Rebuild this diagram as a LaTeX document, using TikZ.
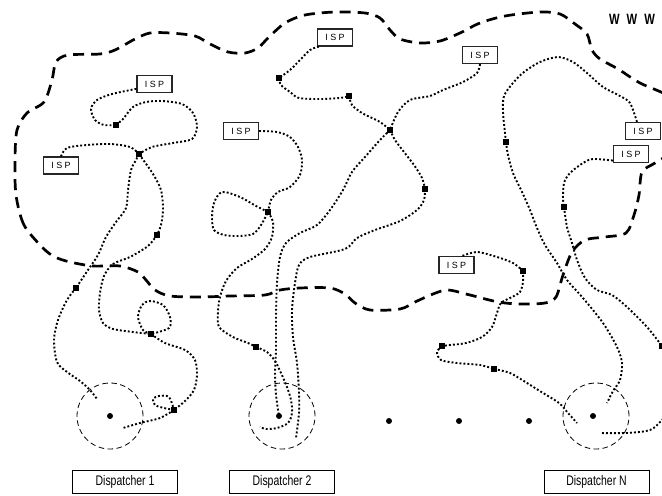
\documentclass[tikz,border=0pt]{standalone}
\usepackage{fontspec}
\setmainfont{Liberation Sans}
\newfontfamily\narrowfont[FakeStretch=0.75]{Liberation Sans}
\usetikzlibrary{calc}
\tikzset{
  isp box/.style={
    draw=black!85,
    line width=1.2bp,
    fill=white,
    minimum width=35bp,
    minimum height=17bp,
    inner sep=0pt,
    font=\fontsize{9}{9}\selectfont,
  },
  router/.style={
    fill=black,
    minimum size=6.5bp,
    inner sep=0pt,
  },
  hub/.style={
    circle,
    fill=black,
    minimum size=6bp,
    inner sep=0pt,
  },
  ring/.style={
    circle,
    draw,
    line width=0.8bp,
    dash pattern=on 5.5bp off 3.5bp,
    minimum size=66bp,
    inner sep=0pt,
  },
  dispatch box/.style={
    draw,
    line width=0.8bp,
    minimum width=105bp,
    minimum height=23bp,
    inner sep=0pt,
    font=\narrowfont\fontsize{14}{14}\selectfont,
  },
  link/.style={line width=1.9bp,dash pattern=on 1.9bp off 2.1bp},
  net border/.style={line width=2.7bp,dash pattern=on 11bp off 7bp},
}

\begin{document}
\begin{tikzpicture}[x=1bp,y=-1bp]
\clip (0,0) rectangle (662,496);

% Internet border.
\draw[net border] plot[smooth cycle,tension=0.5] coordinates {
  (43,248) (24,225) (16,195) (15,160) (17,130) (27,113) (44,102) (52,80) (56,62)
  (68,55) (100,54) (115,50) (135,39) (150,33) (170,33) (195,36) (210,44) (228,52)
  (245,53) (258,48) (268,38) (285,23) (305,15) (335,12) (365,13) (380,18) (390,30)
  (400,39) (420,43) (440,41) (460,33) (480,23) (505,16) (540,12) (560,14) (575,24)
  (587,34) (592,50) (600,59) (618,69) (640,83) (675,100) (690,130) (675,150)
  (655,163) (642,172) (639,195) (634,215) (626,233) (605,237) (585,240) (572,252)
  (563,275) (556,297) (545,303) (520,304) (498,302) (470,295) (448,290) (433,294)
  (415,302) (400,309) (370,310) (355,303) (345,294) (330,288) (300,288) (280,290)
  (265,295) (230,296) (200,297) (170,296) (155,290) (146,280) (138,272) (120,266)
  (93,266) (70,262) (55,257)};

\node[font=\narrowfont\bfseries\fontsize{15}{15}\selectfont] (www) at (632,19) {W\hspace{7bp}W\hspace{7bp}W};

% Access providers and routers.
\foreach \n/\x/\y in {isp1/154.5/84,isp2/61/165.5,isp3/335/37.5,isp4/241/131,isp5/480/55,isp6/643/131,isp7/631/154,isp8/456.5/265}
  \node[isp box] (\n) at (\x,\y) {I S P};

\foreach \n/\x/\y in {ra/116/125,rb/139/154,rc/157/235,rd/76/288,re/151/334,rf/174/410,rg/279/78,rh/349/96,ri/390/130,rj/425/189,rk/268/212,rl/256/347,rm/506/142,rn/564/207,ro/523/271,rp/442/346,rq/494/369,rr/662/346}
  \node[router] (\n) at (\x,\y) {};

% Dispatchers.
\foreach \n/\h/\c/\b in {1/110/110/125,2/279/282/282,N/593/596/596.5}{
  \node[hub] (hub\n) at (\h,416) {};
  \node[ring] (ring\n) at (\c,416) {};
  \node[dispatch box] (disp\n) at (\b,482) {Dispatcher \n};
}
\foreach \i/\x in {1/389,2/459,3/529}
  \node[hub] (gap\i) at (\x,421) {};

% Free ends inside the dispatcher areas.
\foreach \n/\x/\y in {e1/97/399,e2/123/428,e3/296/438,e5/260/427,e6/607/403,e7/600/433,e8/577/423}
  \coordinate (\n) at (\x,\y);
\coordinate (isp3 out) at ($(isp3.south west)+(2,0)$);
\coordinate (isp6 out) at ($(isp6.north)+(-6,0)$);
\coordinate (isp8 out) at ($(isp8.north)+(6,0)$);

% Left tree.
\draw[link] plot[smooth] coordinates {(isp1.195) (112,94) (97,100) (91,109) (95,120) (104,125) (ra)};
\draw[link] plot[smooth] coordinates {(ra) (123,119) (133,107) (146,102) (162,101) (182,104) (193,113) (197,127) (192,139) (173,143) (152,147) (rb)};
\draw[link] plot[smooth] coordinates {(isp2.north) (67,148) (87,145) (110,144) (130,147) (rb)};
\draw[link] plot[smooth] coordinates {(rb) (144,161) (153,174) (161,190) (163,210) (161,225) (rc)};
\draw[link] plot[smooth] coordinates {(rc) (148,246) (130,257) (113,264) (104,276) (100,293) (99,310) (103,323) (113,329) (133,332) (re)};
\draw[link] plot[smooth] coordinates {(rb) (136,160) (131,170) (128,190) (126,208) (116,222) (106,237) (98,255) (88,270) (rd)};
\draw[link] plot[smooth] coordinates {(rd) (67,300) (58,320) (54,340) (57,362) (67,372) (80,381) (90,390) (e1)};
\draw[link] plot[smooth] coordinates {(re) (143,330) (138,317) (142,305) (150,301) (163,305) (170,317) (169,328) (re)};
\draw[link] plot[smooth] coordinates {(re) (165,343) (185,350) (195,360) (197,375) (194,390) (185,401) (rf)};
\draw[link] plot[smooth] coordinates {(rf) (164,408) (155,405) (153,399) (159,396) (169,397) (rf)};
\draw[link] plot[smooth] coordinates {(rf) (160,418) (140,423) (e2)};

% Middle tree.
\draw[link] plot[smooth] coordinates {(isp3 out) (310,50) (300,60) (290,70) (rg)};
\draw[link] plot[smooth] coordinates {(rg) (281,85) (290,92) (299,98) (320,99) (340,98) (rh)};
\draw[link] plot[smooth] coordinates {(rh) (352,105) (362,113) (380,122) (ri)};
\draw[link] plot[smooth] coordinates {(isp5.south) (477,73) (463,82) (443,90) (430,96) (410,100) (398,112) (ri)};
\draw[link] plot[smooth] coordinates {(ri) (395,140) (404,152) (414,165) (422,178) (rj)};
\draw[link] plot[smooth] coordinates {(rj) (424,200) (417,210) (400,221) (375,230) (357,238) (345,249) (310,257) (299,265) (295,283) (292,310) (293,337) (297,363) (299,393) (299,413) (e3)};
\draw[link] plot[smooth] coordinates {(ri) (380,140) (365,157) (352,172) (343,190) (330,210) (317,225) (300,233) (286,243) (280,257) (277,283) (276,317) (276,350) (275,373) (276,395) (hub2)};
\draw[link] plot[smooth] coordinates {(isp4.east) (277,132) (290,137) (298,147) (302,160) (300,175) (290,187) (278,192) (271,200) (rk)};
\draw[link] plot[smooth] coordinates {(rk) (256,206) (240,197) (222,192) (214,203) (212,218) (214,230) (224,235) (238,236) (253,234) (261,225) (rk)};
\draw[link] plot[smooth] coordinates {(rk) (273,222) (272,237) (265,249) (252,259) (237,268) (226,281) (220,297) (218,312) (219,327) (233,337) (248,343) (rl)};
\draw[link] plot[smooth] coordinates {(rl) (267,352) (275,361) (281,373) (287,387) (291,400) (292,413) (288,423) (277,428) (266,429) (e5)};

% Right tree.
\draw[link] plot[smooth] coordinates {(isp6 out) (630,103) (620,96) (603,87) (587,73) (573,62) (558,57) (540,62) (524,72) (513,83) (504,96) (503,112) (505,133) (rm)};
\draw[link] plot[smooth] coordinates {(rm) (508,155) (513,173) (522,192) (530,210) (537,228) (545,245) (557,263) (567,280) (583,298) (603,323) (617,347) (622,363) (620,380) (613,391) (e6)};
\draw[link] plot[smooth] coordinates {(isp7.200) (593,159) (583,163) (570,173) (564,183) (563,198) (rn)};
\draw[link] plot[smooth] coordinates {(rn) (567,227) (572,243) (577,260) (585,278) (597,290) (612,295) (627,307) (647,327) (rr)};
\draw[link] plot[smooth] coordinates {(rr) (680,370) (675,405) (662,420) (650,430) (627,433) (e7)};
\draw[link] plot[smooth] coordinates {(isp8 out) (477,252) (497,257) (513,263) (ro)};
\draw[link] plot[smooth] coordinates {(ro) (523,282) (520,292) (512,297) (501,303) (497,313) (492,327) (482,337) (466,343) (450,345) (rp)};
\draw[link] plot[smooth] coordinates {(rp) (437,352) (441,360) (457,363) (480,365) (rq)};
\draw[link] plot[smooth] coordinates {(rq) (510,373) (527,383) (543,393) (559,403) (568,413) (e8)};

\end{tikzpicture}
\end{document}
